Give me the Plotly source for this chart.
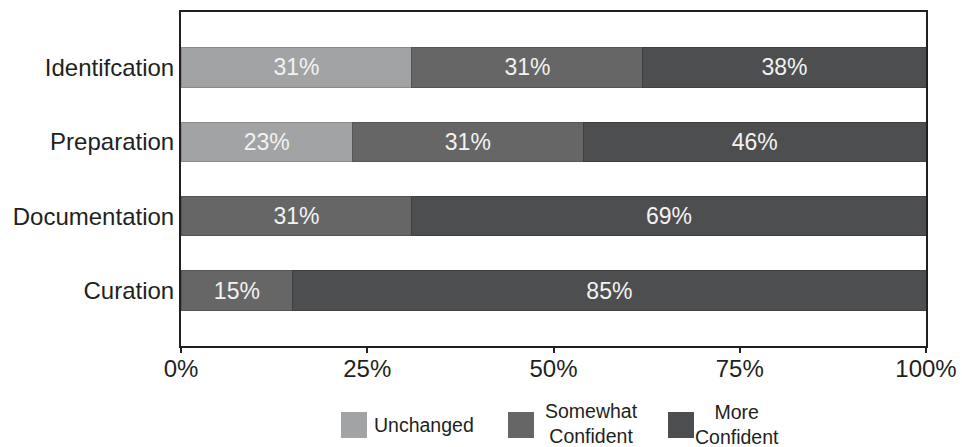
import plotly.graph_objects as go

# Survey results: change in confidence per stage (percent of respondents)
categories = ["Curation", "Documentation", "Preparation", "Identifcation"]
series_names = ["Unchanged", "Somewhat<br>Confident", "More<br>Confident"]
unchanged = [0, 0, 23, 31]
somewhat_confident = [15, 31, 31, 31]
more_confident = [85, 69, 46, 38]
x_tick_values = [0, 25, 50, 75, 100]
x_tick_labels = ["0%", "25%", "50%", "75%", "100%"]

series_values = [unchanged, somewhat_confident, more_confident]
fill_colors = ["#a2a3a5", "#666667", "#4d4e50"]
edge_colors = ["#8a8b8d", "#555556", "#3e3f41"]
font_family = "Liberation Sans, Arial, sans-serif"
text_color = "#231f20"

W, H = 962, 447
M_L, M_R, M_T, M_B = 181, 36, 12, 101
plot_w = W - M_L - M_R
plot_h = H - M_T - M_B

fig = go.Figure()
for name, vals, fc, ec in zip(series_names, series_values, fill_colors, edge_colors):
    fig.add_trace(go.Bar(
        y=categories,
        x=vals,
        name=name,
        orientation="h",
        width=0.53,
        marker=dict(color=fc, line=dict(color=ec, width=1)),
        text=[f"{v}%" if v else "" for v in vals],
        textposition="inside",
        insidetextanchor="middle",
        textfont=dict(family=font_family, size=23, color="#f2f2f2"),
        showlegend=False,
        hoverinfo="skip",
    ))


def px_x(px):
    return (px - M_L) / plot_w


def px_y(py):
    return (H - M_B - py) / plot_h


# Legend: square swatches with series names beside them
legend_items = [
    # swatch left edge, text x, text anchor, text centre y
    (341, 372, "left", 425),
    (508, 591, "center", 423.5),
    (668, 737, "center", 424),
]
swatch = 26
legend_mid = 425
for (sx, tx, anchor, ty), name, fc in zip(legend_items, series_names, fill_colors):
    fig.add_shape(
        type="rect", xref="paper", yref="paper",
        x0=px_x(sx), x1=px_x(sx + swatch),
        y0=px_y(legend_mid + swatch / 2), y1=px_y(legend_mid - swatch / 2),
        fillcolor=fc, line=dict(width=0),
    )
    fig.add_annotation(
        xref="paper", yref="paper",
        x=px_x(tx), y=px_y(ty),
        xanchor=anchor, yanchor="middle", align="center",
        text=name, showarrow=False,
        font=dict(family=font_family, size=19.5, color=text_color),
    )

fig.update_layout(
    barmode="stack",
    width=W, height=H,
    margin=dict(l=M_L, r=M_R, t=M_T, b=M_B, pad=0, autoexpand=False),
    plot_bgcolor="white",
    paper_bgcolor="white",
    font=dict(family=font_family, color=text_color),
)
fig.update_xaxes(
    range=[0, 100],
    tickmode="array",
    tickvals=x_tick_values,
    ticktext=x_tick_labels,
    ticks="outside", ticklen=5, tickwidth=2, tickcolor="#231f20",
    ticklabelstandoff=-5,
    showline=True, linewidth=2, linecolor="#231f20", mirror=True,
    showgrid=False, zeroline=False, automargin=False,
    tickfont=dict(size=24, color=text_color),
)
fig.update_yaxes(
    range=[-0.745, 3.745],
    ticks="",
    showline=True, linewidth=2, linecolor="#231f20", mirror=True,
    showgrid=False, zeroline=False, automargin=False,
    tickfont=dict(size=24, color=text_color),
)

fig.write_html("out.html")
